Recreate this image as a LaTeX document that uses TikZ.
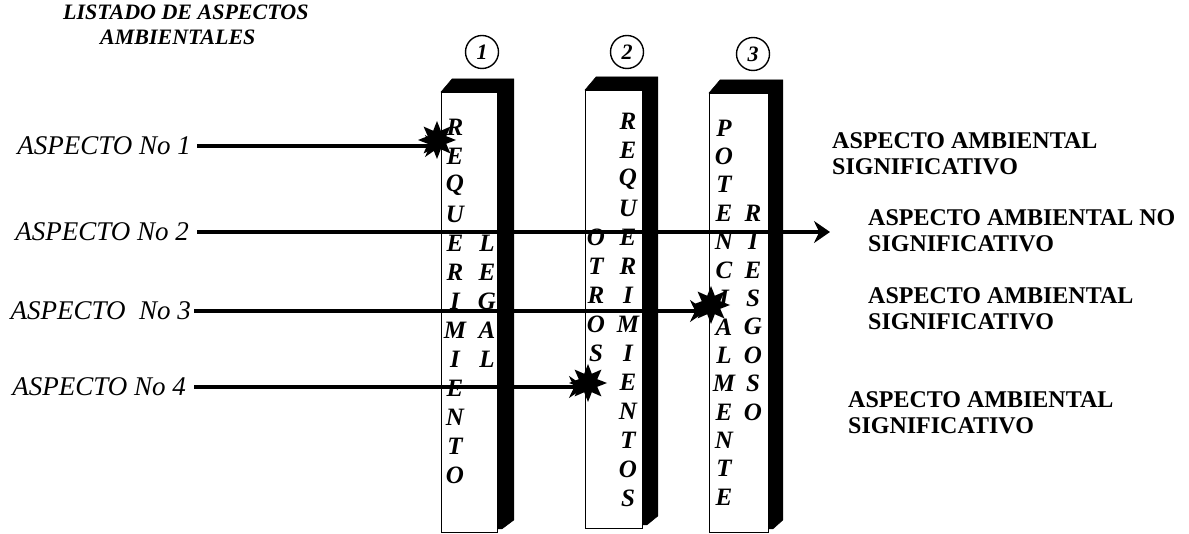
\documentclass[tikz,border=0pt]{standalone}
\usepackage{fontspec}
\setmainfont{Liberation Serif}
\usetikzlibrary{shapes.geometric,arrows.meta,calc}
\begin{document}
\begin{tikzpicture}[x=1pt,y=-1pt,
  colbox/.style={draw, line width=0.9pt, fill=white, inner sep=0pt, anchor=north west},
  colblack/.style={fill=black, draw=black, line width=0.5pt},
  colletter/.style={font=\bfseries\itshape\fontsize{25}{25}\selectfont, inner sep=0pt},
  lefttext/.style={font=\itshape\fontsize{27}{27}\selectfont, inner sep=0pt, anchor=east},
  righttext/.style={font=\bfseries\fontsize{24}{26}\selectfont, inner sep=0pt, anchor=west, align=left},
  titletext/.style={font=\bfseries\itshape\fontsize{22}{25}\selectfont, inner sep=0pt, align=left},
  numcirc/.style={circle, draw, line width=1.4pt, minimum size=33pt, inner sep=0pt, font=\bfseries\itshape\fontsize{22}{22}\selectfont},
  conn/.style={line width=4.5pt, -{Stealth[length=16pt,width=22pt]}},
  burst/.style={star, star points=8, star point ratio=1.9, minimum size=38pt, fill=black, inner sep=0pt}
]
\useasboundingbox (0,0) rectangle (1189,534);

% title
\node[titletext, anchor=north west] (title) at (63,5) {LISTADO DE ASPECTOS\\\hspace*{37pt}AMBIENTALES};

% columns
\node[colbox, minimum width=56pt, minimum height=440pt] (c1) at (441,92) {};
\node[colbox, minimum width=57pt, minimum height=438pt] (c2) at (585,90) {};
\node[colbox, minimum width=59pt, minimum height=439pt] (c3) at (709,93) {};

\foreach \c/\w in {c1/16, c2/15, c3/14}{
  \fill[colblack] (\c.north west) -- ++(11,-13) -- ($(\c.north east)+(\w,-13)$)
     -- ($(\c.south east)+(\w,-13)$) -- ($(\c.south east)+(4,-4)$) -- ($(\c.south east)+(0,-4)$)
     -- (\c.north east) -- cycle;
}

% circled numbers
\node[numcirc] (n1) at (482,52) {1};
\node[numcirc] (n2) at (627,52) {2};
\node[numcirc] (n3) at (753,54) {3};

% letters column 1
\foreach \ch [count=\i from 0] in {R,E,Q,U,E,R,I,M,I,E,N,T,O}
  \node[colletter] (pa\i) at (455,{127+29*\i}) {\ch};
\foreach \ch [count=\i from 4] in {L,E,G,A,L}
  \node[colletter] (pb\i) at (487,{127+29*\i}) {\ch};
% letters column 2
\foreach \ch [count=\i from 0] in {R,E,Q,U,E,R,I,M,I,E,N,T,O,S}
  \node[colletter] (qa\i) at (628,{121+29*\i}) {\ch};
\foreach \ch [count=\i from 4] in {O,T,R,O,S}
  \node[colletter] (qb\i) at (596,{121+29*\i}) {\ch};
% letters column 3
\foreach \ch [count=\i from 0] in {P,O,T,E,N,C,I,A,L,M,E,N,T,E}
  \node[colletter] (ra\i) at (724,{128+28.4*\i}) {\ch};
\foreach \ch [count=\i from 3] in {R,I,E,S,G,O,S,O}
  \node[colletter] (rb\i) at (753,{128+28.4*\i}) {\ch};

% left labels
\node[lefttext] (a1) at (191,146) {ASPECTO No 1};
\node[lefttext] (a2) at (189,232) {ASPECTO No 2};
\node[lefttext] (a3) at (191,311) {ASPECTO\ \ No 3};
\node[lefttext] (a4) at (186,387) {ASPECTO No 4};

% right labels
\node[righttext] (r1) at (832,154) {ASPECTO AMBIENTAL\\SIGNIFICATIVO};
\node[righttext] (r2) at (868,231) {ASPECTO AMBIENTAL NO\\SIGNIFICATIVO};
\node[righttext] (r3) at (868,309) {ASPECTO AMBIENTAL\\SIGNIFICATIVO};
\node[righttext] (r4) at (848,413) {ASPECTO AMBIENTAL\\SIGNIFICATIVO};

% connectors
\coordinate (e2) at (830,232);
\draw[conn] ([xshift=6pt]a1.east) -- (a1.east -| c1.west);
\draw[conn] ([xshift=8pt]a2.east) -- (a2.east -| e2);
\draw[conn] ([xshift=3pt]a3.east) -- ([xshift=-3pt]a3.east -| c3.west);
\draw[conn] ([xshift=8pt]a4.east) -- (a4.east -| c2.west);

% bursts
\node[burst] (s1) at (437,140) {};
\node[burst] (s3) at (711,305) {};
\node[burst] (s4) at (588,383) {};
\end{tikzpicture}
\end{document}
